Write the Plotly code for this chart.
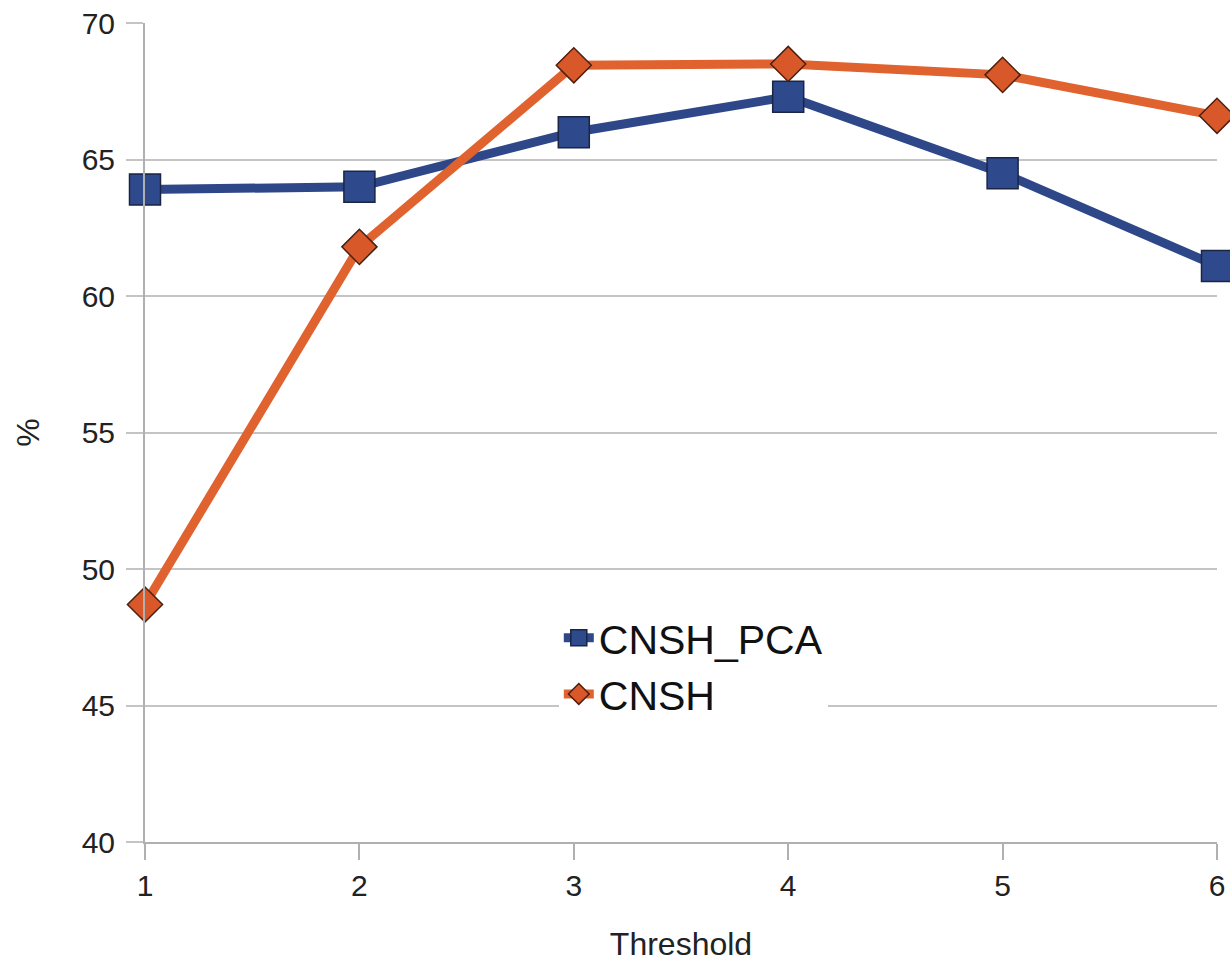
import plotly.graph_objects as go

thresholds = [1, 2, 3, 4, 5, 6]
cnsh_pca = [63.9, 64.0, 66.0, 67.3, 64.5, 61.1]
cnsh = [48.7, 61.8, 68.45, 68.5, 68.1, 66.6]
y_ticks = [40, 45, 50, 55, 60, 65, 70]

FONT = "Liberation Sans, Arial, sans-serif"

fig = go.Figure()
fig.add_trace(go.Scatter(
    x=thresholds, y=cnsh_pca, name="CNSH_PCA", mode="lines+markers",
    line=dict(color="#2E4789", width=9),
    marker=dict(symbol="square", size=31, color="#2F4A8C",
                line=dict(color="#1A2444", width=1.5)),
    cliponaxis=False,
))
fig.add_trace(go.Scatter(
    x=thresholds, y=cnsh, name="CNSH", mode="lines+markers",
    line=dict(color="#E0622E", width=9),
    marker=dict(symbol="diamond", size=27, color="#D9582A",
                line=dict(color="#4A2010", width=1.5)),
    cliponaxis=False,
))

fig.update_layout(
    width=1230, height=971,
    margin=dict(l=145, r=13, t=23, b=129),
    paper_bgcolor="white", plot_bgcolor="white",
    font=dict(family=FONT, size=30, color="#222222"),
    showlegend=True,
    legend=dict(
        x=0.386, y=0.29, xanchor="left", yanchor="top",
        bgcolor="white", font=dict(size=41, color="#111111"),
        itemsizing="trace", tracegroupgap=0,
    ),
    xaxis=dict(
        range=[1, 6], tickvals=thresholds, ticktext=[str(t) for t in thresholds],
        showgrid=False, zeroline=False, automargin=False,
        showline=True, linecolor="#b0b0b0", linewidth=2,
        ticks="outside", ticklen=16, tickwidth=2, tickcolor="#b0b0b0",
        title=dict(text="Threshold", font=dict(size=32, color="#222222"), standoff=32),
        tickfont=dict(size=30),
    ),
    yaxis=dict(
        range=[40, 70], tickvals=y_ticks,
        showgrid=True, gridcolor="#c4c4c4", gridwidth=2,
        zeroline=False, automargin=False,
        showline=True, linecolor="#b0b0b0", linewidth=2,
        ticks="outside", ticklen=17, tickwidth=2, tickcolor="#c4c4c4",
        ticklabelstandoff=5,
        title=dict(text="%", font=dict(size=32, color="#222222"), standoff=32),
        tickfont=dict(size=30),
    ),
)

fig.write_html("out.html")
